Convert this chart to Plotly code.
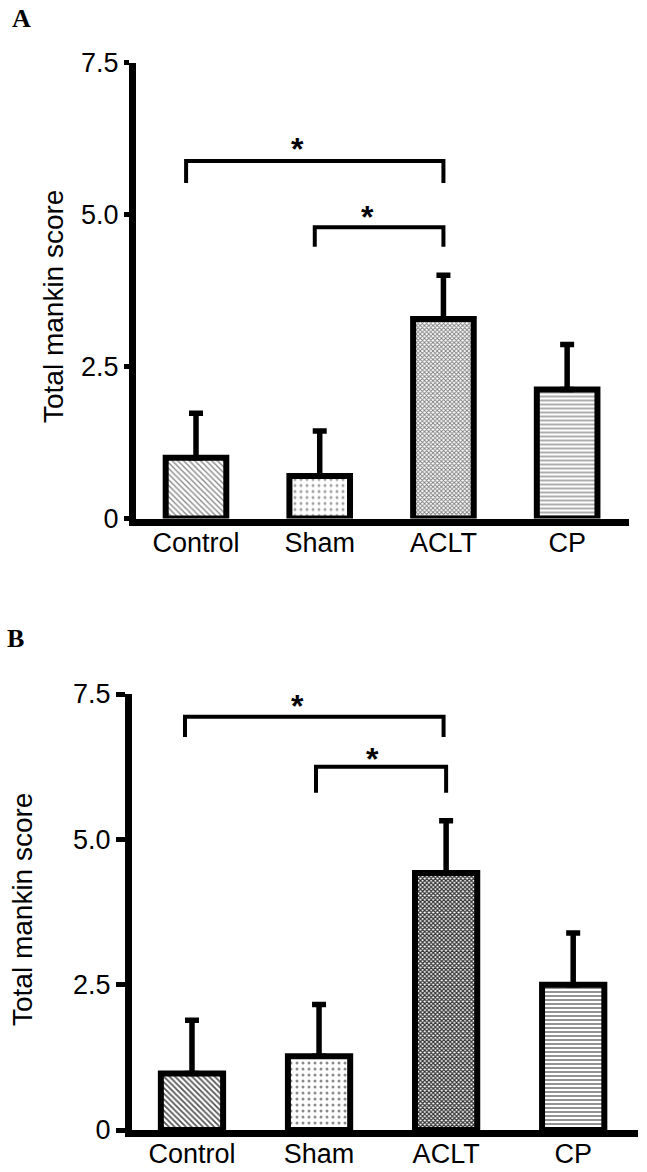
import plotly.graph_objects as go

categories = ["Control", "Sham", "ACLT", "CP"]
x_idx = [0, 1, 2, 3]

# Panel A
a_values = [1.0, 0.7, 3.28, 2.12]
a_errors = [0.73, 0.74, 0.72, 0.74]
# Panel B
b_values = [0.97, 1.27, 4.42, 2.5]
b_errors = [0.92, 0.89, 0.9, 0.89]

y_tickvals = [0, 2.5, 5.0, 7.5]
y_ticktext = ["0", "2.5", "5.0", "7.5"]
y_title = "Total mankin score"

# significance brackets: (x_left, x_right, y_top, y_leg_end, star_x, star_y)
a_brackets = [(-0.08, 2.0, 5.88, 5.52, 0.82, 6.23), (0.96, 2.0, 4.79, 4.47, 1.39, 5.11)]
b_brackets = [(-0.055, 1.98, 7.11, 6.76, 0.83, 7.45), (0.976, 2.0, 6.25, 5.80, 1.42, 6.54)]

FONT = "Liberation Sans, Arial, sans-serif"

a_pattern = dict(shape=["\\", ".", "x", "-"],
                 fgcolor=["#8a8a8a", "#a0a0a0", "#7a7a7a", "#8a8a8a"],
                 bgcolor="white", size=[4, 6, 3, 4], solidity=[0.35, 0.2, 0.5, 0.35])
b_pattern = dict(shape=["\\", ".", "x", "-"],
                 fgcolor=["#555555", "#8a8a8a", "#333333", "#777777"],
                 bgcolor="white", size=[4, 6, 3, 4], solidity=[0.45, 0.2, 0.65, 0.4])

fig = go.Figure()
for vals, errs, pat, xa, ya in [(a_values, a_errors, a_pattern, "x", "y"),
                                (b_values, b_errors, b_pattern, "x2", "y2")]:
    fig.add_trace(go.Bar(
        x=x_idx, y=vals, width=0.49, xaxis=xa, yaxis=ya,
        marker=dict(color="white", line=dict(color="black", width=6), pattern=pat),
        error_y=dict(type="data", array=errs, arrayminus=[0] * len(errs), symmetric=False,
                     color="black", thickness=5.5, width=7),
        showlegend=False, hoverinfo="skip"))

shapes = []
annotations = []
for brs, xr, yr in [(a_brackets, "x", "y"), (b_brackets, "x2", "y2")]:
    for (x0, x1, yt, yl, sx, sy) in brs:
        shapes.append(dict(type="path", xref=xr, yref=yr,
                           path=f"M {x0} {yl} L {x0} {yt} L {x1} {yt} L {x1} {yl}",
                           line=dict(color="black", width=4)))
        annotations.append(dict(x=sx, y=sy, xref=xr, yref=yr, text="<b>*</b>", showarrow=False,
                                font=dict(family=FONT, size=32, color="black"),
                                yanchor="middle", yshift=-9))

H = 1172.0
W = 647.0
# y-axis titles
annotations.append(dict(x=53 / W, y=1 - 307 / H, xref="paper", yref="paper", text=y_title,
                        textangle=-90, showarrow=False, xanchor="center", yanchor="middle",
                        font=dict(family=FONT, size=28, color="black")))
annotations.append(dict(x=22 / W, y=1 - 910 / H, xref="paper", yref="paper", text=y_title,
                        textangle=-90, showarrow=False, xanchor="center", yanchor="middle",
                        font=dict(family=FONT, size=28, color="black")))
# panel labels
annotations.append(dict(x=21 / W, y=1 - 18 / H, xref="paper", yref="paper", text="<b>A</b>",
                        showarrow=False, xanchor="center", yanchor="middle",
                        font=dict(family="Liberation Serif, Times New Roman, serif", size=26, color="black")))
annotations.append(dict(x=15 / W, y=1 - 638 / H, xref="paper", yref="paper", text="<b>B</b>",
                        showarrow=False, xanchor="center", yanchor="middle",
                        font=dict(family="Liberation Serif, Times New Roman, serif", size=26, color="black")))

xcommon = dict(tickmode="array", tickvals=x_idx, ticktext=categories, showline=True,
               linecolor="black", linewidth=7, ticks="", showgrid=False, zeroline=False,
               tickfont=dict(family=FONT, size=27, color="black"), fixedrange=True,
               automargin=False, ticklabelstandoff=-6)
ycommon = dict(tickmode="array", tickvals=y_tickvals, ticktext=y_ticktext, range=[0, 7.5],
               showline=True, linecolor="black", linewidth=7, ticks="outside", tickwidth=5,
               tickcolor="black", showgrid=False, zeroline=False,
               tickfont=dict(family=FONT, size=27, color="black"), fixedrange=True,
               automargin=False)

fig.update_layout(
    template="none",
    width=647, height=1172,
    margin=dict(l=0, r=0, t=0, b=0, autoexpand=False),
    paper_bgcolor="white", plot_bgcolor="white",
    xaxis=dict(**xcommon, domain=[136 / W, 629 / W], range=[-0.485, 3.5], anchor="y"),
    yaxis=dict(**ycommon, domain=[1 - 518.5 / H, 1 - 62.5 / H], anchor="x", ticklen=5),
    xaxis2=dict(**xcommon, domain=[132 / W, 638 / W], range=[-0.472, 3.51], anchor="y2"),
    yaxis2=dict(**ycommon, domain=[1 - 1130 / H, 1 - 694 / H], anchor="x2", ticklen=9),
    shapes=shapes,
    annotations=annotations,
    bargap=0.5,
)

fig.write_html("out.html", config={"displayModeBar": False},
               post_script="document.body.style.margin='0';document.body.style.overflow='hidden';")
